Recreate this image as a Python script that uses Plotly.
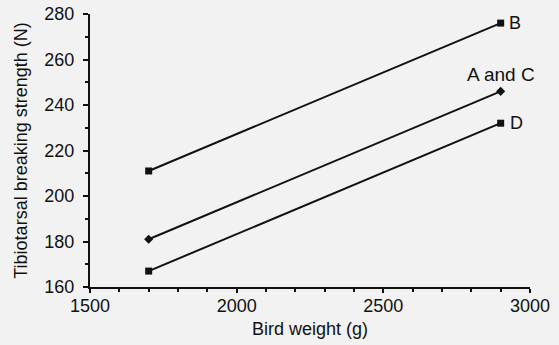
import plotly.graph_objects as go

weights = [1700, 2900]
series_names = ["B", "A and C", "D"]
strength_B = [211, 276]
strength_AC = [181, 246]
strength_D = [167, 232]
x_ticks = [1500, 2000, 2500, 3000]
y_ticks = [160, 180, 200, 220, 240, 260, 280]

FAM = "Liberation Sans, Arial, sans-serif"
font = dict(family=FAM, size=18, color="#111")

fig = go.Figure()
for name, vals, sym, size in [
    ("B", strength_B, "square", 7),
    ("A and C", strength_AC, "diamond", 7),
    ("D", strength_D, "square", 7),
]:
    fig.add_trace(go.Scatter(
        x=weights, y=vals, mode="lines+markers", name=name,
        line=dict(color="#111", width=2),
        marker=dict(symbol=sym, size=size, color="#111"),
        showlegend=False, hoverinfo="skip",
    ))

# labels at right end
fig.add_annotation(x=weights[1], y=strength_B[1], text="B", showarrow=False,
                   xanchor="left", xshift=6, font=font)
fig.add_annotation(x=weights[1], y=strength_AC[1], text="A and C", showarrow=False,
                   xanchor="center", yanchor="bottom", xshift=0, yshift=4,
                   font=dict(family=FAM, size=19, color="#111"))
fig.add_annotation(x=weights[1], y=strength_D[1], text="D", showarrow=False,
                   xanchor="left", xshift=7, font=font)

fig.update_layout(
    width=559, height=345,
    margin=dict(l=90, r=29, t=14, b=58),
    paper_bgcolor="#f2f2f2", plot_bgcolor="#f2f2f2",
    font=font,
    xaxis=dict(range=[1500, 3000], tickvals=x_ticks, showgrid=False, zeroline=False,
               showline=True, linecolor="#111", linewidth=2, ticks="outside",
               ticklen=4, tickcolor="#111", tickwidth=1.5, ticklabelstandoff=-3,
               minor=dict(dtick=100, ticks="outside", ticklen=3, tickcolor="#111"),
               title=dict(text="Bird weight (g)", standoff=8,
                          font=dict(family=FAM, size=18, color="#111")),
               tickfont=font, automargin=False),
    yaxis=dict(range=[160, 280], tickvals=y_ticks, showgrid=False, zeroline=False,
               showline=True, linecolor="#111", linewidth=2, ticks="outside",
               ticklen=5, tickcolor="#111", tickwidth=1.5, ticklabelstandoff=5,
               minor=dict(dtick=10, ticks="outside", ticklen=3, tickcolor="#111"),
               title=dict(text="Tibiotarsal breaking strength (N)", standoff=12,
                          font=dict(family=FAM, size=18, color="#111")),
               tickfont=font, automargin=False),
)

fig.write_html("out.html", config={"displayModeBar": False},
               post_script="document.body.style.margin='0px';")
